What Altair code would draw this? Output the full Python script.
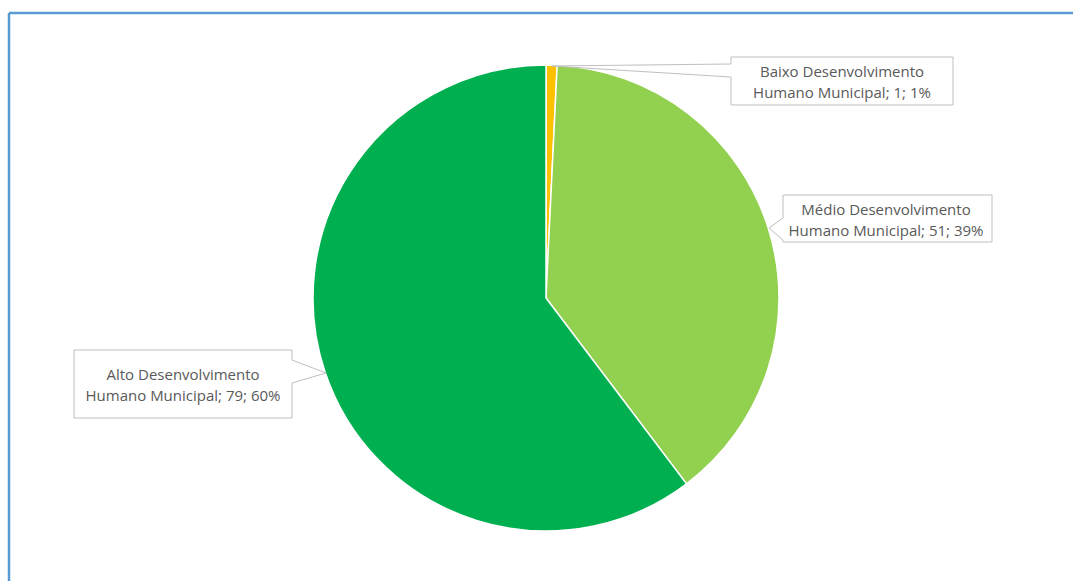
import altair as alt
import pandas as pd

# data
categories = ["Baixo Desenvolvimento Humano Municipal",
              "Médio Desenvolvimento Humano Municipal",
              "Alto Desenvolvimento Humano Municipal"]
values = [1, 51, 79]
percent_labels = ["1%", "39%", "60%"]
colors = ["#FFC000", "#92D050", "#00B050"]

W, H = 1073, 581
CX, CY, R = 546, 298, 233

pie_df = pd.DataFrame({"cat": categories, "value": values, "idx": [0, 1, 2]})

pie = alt.Chart(pie_df).mark_arc(outerRadius=R, stroke="white", strokeWidth=1.5).encode(
    theta=alt.Theta("value:Q", stack=True),
    order=alt.Order("idx:Q"),
    color=alt.Color("cat:N", scale=alt.Scale(domain=categories, range=colors), legend=None),
    x=alt.value(CX), y=alt.value(CY),
)

# label callout outlines (layout)
outlines = [
    # Baixo
    [(731, 57), (953, 57), (953, 105), (731, 105), (731, 77), (552, 66), (731, 64), (731, 57)],
    # Médio
    [(783, 195), (992, 195), (992, 242), (783, 242), (783, 240), (769, 228), (783, 218), (783, 195)],
    # Alto
    [(74, 350), (292, 350), (292, 360), (326, 373), (292, 383), (292, 418), (74, 418), (74, 350)],
]
rows = []
for k, pts in enumerate(outlines):
    for j, (px, py) in enumerate(pts):
        rows.append({"box": k, "o": j, "px": px, "py": py})
box_df = pd.DataFrame(rows)

boxes = alt.Chart(box_df).mark_line(color="#BFBFBF", strokeWidth=1).encode(
    x=alt.X("px:Q", scale=None, axis=None),
    y=alt.Y("py:Q", scale=None, axis=None),
    detail="box:N",
    order="o:Q",
)

label_pos = [(842, 72), (886, 210), (183, 375)]
trows = []
for i in range(3):
    words = categories[i].split(" ")
    line1 = " ".join(words[:2])
    line2 = " ".join(words[2:]) + f"; {values[i]}; {percent_labels[i]}"
    tx, ty = label_pos[i]
    trows.append({"t": line1, "tx": tx, "ty": ty})
    trows.append({"t": line2, "tx": tx, "ty": ty + 21})
text_df = pd.DataFrame(trows)

texts = alt.Chart(text_df).mark_text(font="Open Sans", fontSize=15, color="#595959",
                                     align="center", baseline="middle").encode(
    x=alt.X("tx:Q", scale=None, axis=None),
    y=alt.Y("ty:Q", scale=None, axis=None),
    text="t:N",
)

frame_df = pd.DataFrame({"fx": [9, 9], "fy": [581, 13], "fx2": [9, 1073], "fy2": [13, 13]})
frame = alt.Chart(frame_df).mark_rule(color="#5B9BD5", strokeWidth=2.5).encode(
    x=alt.X("fx:Q", scale=None, axis=None),
    y=alt.Y("fy:Q", scale=None, axis=None),
    x2="fx2:Q", y2="fy2:Q",
)

chart = alt.layer(frame, pie, boxes, texts).properties(
    width=W, height=H, padding=0, autosize=alt.AutoSizeParams(type="none"),
    background="white",
).configure_view(stroke=None)

chart.save("out.html", embed_options={"renderer": "svg", "actions": False})
